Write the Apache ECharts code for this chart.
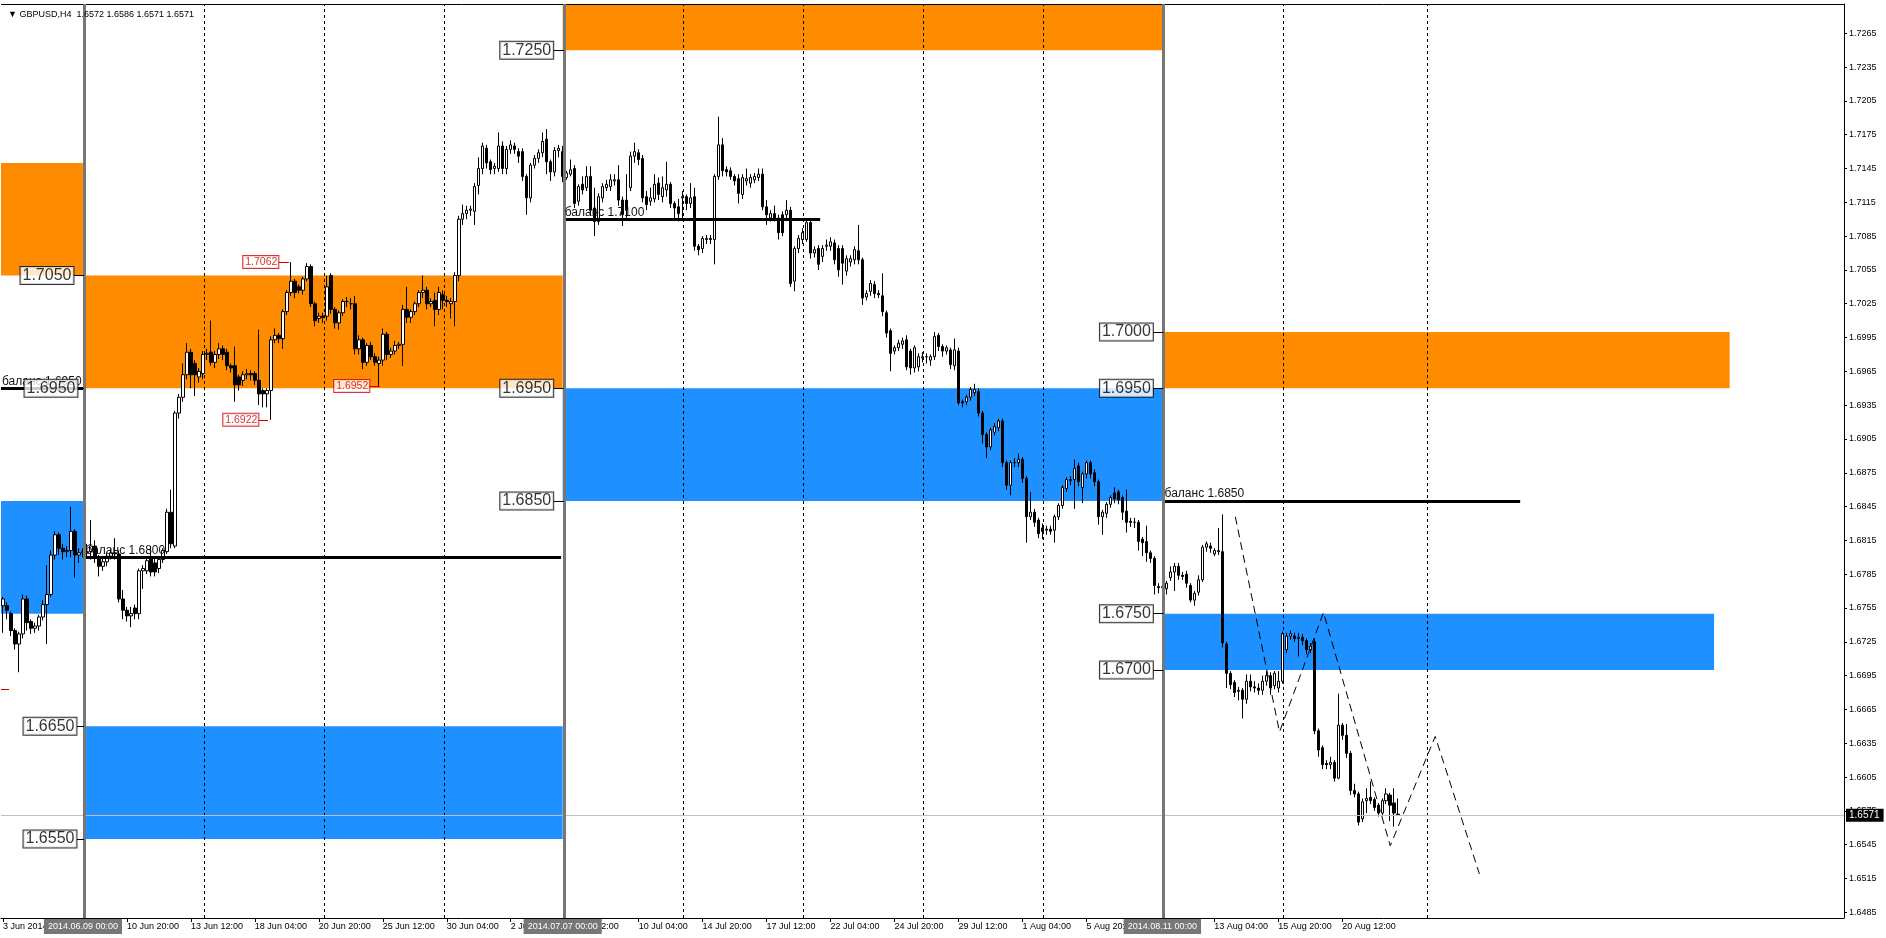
<!DOCTYPE html>
<html><head><meta charset="utf-8">
<script src="https://cdn.jsdelivr.net/npm/echarts@6/dist/echarts.min.js"></script>
<style>html,body{margin:0;padding:0;background:#fff}#c{width:1886px;height:938px}</style>
</head><body><div id="c"></div>
<script>
// ---------------- DATA ----------------
const SLOTS = 461; // H4 bar slots across the visible window (incl. empty future area)
// H4 candles: [open, close, low, high]
const ohlc = [
[1.6757,1.6763,1.6733,1.6765],[1.6757,1.6753,1.6745,1.6760],[1.6750,1.6735,1.6730,1.6752],[1.6735,1.6723,1.6718,1.6737],
[1.6723,1.6732,1.6698,1.6734],[1.6732,1.6763,1.6728,1.6767],[1.6763,1.6742,1.6735,1.6766],[1.6743,1.6737,1.6732,1.6745],
[1.6737,1.6739,1.6733,1.6742],[1.6739,1.6747,1.6735,1.6749],[1.6747,1.6758,1.6744,1.6762],[1.6758,1.6767,1.6723,1.6793],
[1.6767,1.6802,1.6765,1.6806],[1.6802,1.6820,1.6798,1.6823],[1.6820,1.6808,1.6802,1.6822],[1.6808,1.6805,1.6798,1.6812],
[1.6805,1.6806,1.6800,1.6810],[1.6806,1.6823,1.6800,1.6845],[1.6823,1.6802,1.6782,1.6825],[1.6802,1.6804,1.6795,1.6808],
[1.6804,1.6805,1.6800,1.6808],
[1.6804,1.6805,1.6800,1.6812],[1.6805,1.6810,1.6798,1.6833],[1.6810,1.6799,1.6795,1.6815],[1.6799,1.6792,1.6783,1.6802],
[1.6792,1.6796,1.6788,1.6800],[1.6796,1.6801,1.6792,1.6804],[1.6801,1.6804,1.6798,1.6808],[1.6804,1.6803,1.6798,1.6817],
[1.6803,1.6763,1.6760,1.6806],[1.6763,1.6753,1.6745,1.6771],[1.6753,1.6748,1.6743,1.6756],[1.6748,1.6750,1.6738,1.6756],
[1.6755,1.6750,1.6745,1.6758],[1.6750,1.6788,1.6745,1.6790],[1.6788,1.6790,1.6772,1.6793],[1.6788,1.6797,1.6785,1.6800],
[1.6800,1.6787,1.6783,1.6810],[1.6795,1.6787,1.6783,1.6799],[1.6790,1.6798,1.6786,1.6801],[1.6798,1.6806,1.6795,1.6808],
[1.6805,1.6840,1.6803,1.6843],[1.6840,1.6812,1.6808,1.6860],[1.6810,1.6928,1.6808,1.6930],[1.6928,1.6942,1.6923,1.6945],
[1.6942,1.6962,1.6938,1.6972],[1.6962,1.6982,1.6958,1.6990],[1.6982,1.6962,1.6950,1.6985],[1.6972,1.6962,1.6943,1.6975],
[1.6960,1.6965,1.6955,1.6968],[1.6963,1.6980,1.6958,1.6983],[1.6980,1.6981,1.6975,1.6985],[1.6982,1.6973,1.6970,1.7010],
[1.6973,1.6980,1.6968,1.6983],[1.6980,1.6985,1.6976,1.6990],[1.6985,1.6980,1.6975,1.6988],[1.6982,1.6970,1.6966,1.6985],
[1.6970,1.6968,1.6964,1.6972],[1.6970,1.6953,1.6938,1.6987],[1.6960,1.6953,1.6948,1.6962],[1.6957,1.6962,1.6952,1.6965],
[1.6962,1.6963,1.6958,1.6967],[1.6963,1.6962,1.6957,1.6966],[1.6963,1.6957,1.6953,1.6965],[1.6957,1.6945,1.6935,1.7002],
[1.6948,1.6945,1.6933,1.6950],[1.6945,1.6948,1.6933,1.6950],[1.6948,1.6993,1.6922,1.6996],[1.6993,1.6997,1.6990,1.7003],
[1.6997,1.6994,1.6990,1.6999],[1.6994,1.7018,1.6985,1.7020],[1.7018,1.7035,1.7015,1.7037],[1.7035,1.7045,1.7032,1.7062],
[1.7045,1.7035,1.7030,1.7047],[1.7040,1.7037,1.7034,1.7042],[1.7037,1.7047,1.7033,1.7049],[1.7047,1.7058,1.7045,1.7061],
[1.7058,1.7025,1.7022,1.7060],[1.7025,1.7010,1.7005,1.7027],[1.7012,1.7014,1.7008,1.7017],[1.7014,1.7013,1.7008,1.7017],
[1.7014,1.7040,1.7010,1.7050],[1.7050,1.7020,1.7016,1.7052],[1.7020,1.7008,1.7003,1.7022],[1.7008,1.7017,1.7002,1.7019],
[1.7017,1.7027,1.7014,1.7029],[1.7027,1.7027,1.7022,1.7031],[1.7025,1.7025,1.7020,1.7030],[1.7025,1.6985,1.6980,1.7032],
[1.6985,1.6993,1.6980,1.6997],[1.6993,1.6973,1.6967,1.6995],[1.6973,1.6988,1.6970,1.6990],[1.6988,1.6978,1.6975,1.6991],
[1.6978,1.6973,1.6970,1.6981],[1.6972,1.6975,1.6952,1.6978],[1.6975,1.6998,1.6970,1.7003],[1.6998,1.6980,1.6975,1.7000],
[1.6980,1.6983,1.6977,1.6986],[1.6983,1.6988,1.6980,1.6992],[1.6988,1.6989,1.6985,1.6991],[1.6989,1.7020,1.6970,1.7024],
[1.7020,1.7013,1.7008,1.7040],[1.7013,1.7018,1.7008,1.7020],[1.7018,1.7025,1.7015,1.7027],[1.7025,1.7035,1.7022,1.7037],
[1.7035,1.7037,1.7030,1.7050],[1.7037,1.7025,1.7020,1.7040],[1.7025,1.7027,1.7022,1.7030],[1.7028,1.7020,1.7005,1.7035],
[1.7020,1.7035,1.7015,1.7040],[1.7033,1.7028,1.7020,1.7037],[1.7028,1.7027,1.7022,1.7032],[1.7025,1.7027,1.7012,1.7030],
[1.7027,1.7050,1.7005,1.7053],[1.7050,1.7100,1.7045,1.7103],[1.7100,1.7105,1.7095,1.7113],[1.7105,1.7108,1.7100,1.7112],
[1.7108,1.7109,1.7103,1.7112],[1.7107,1.7129,1.7095,1.7132],[1.7130,1.7145,1.7122,1.7155],
[1.7145,1.7165,1.7140,1.7168],[1.7163,1.7150,1.7145,1.7166],[1.7151,1.7144,1.7140,1.7153],[1.7145,1.7147,1.7140,1.7150],
[1.7145,1.7165,1.7142,1.7177],[1.7165,1.7145,1.7140,1.7169],[1.7145,1.7162,1.7140,1.7165],[1.7162,1.7166,1.7158,1.7170],
[1.7165,1.7162,1.7158,1.7168],[1.7160,1.7156,1.7150,1.7163],[1.7160,1.7138,1.7134,1.7163],[1.7138,1.7119,1.7104,1.7140],
[1.7119,1.7148,1.7115,1.7150],[1.7148,1.7154,1.7145,1.7157],[1.7154,1.7159,1.7150,1.7162],[1.7159,1.7169,1.7155,1.7177],
[1.7171,1.7151,1.7140,1.7180],[1.7151,1.7142,1.7134,1.7153],[1.7142,1.7161,1.7138,1.7164],[1.7161,1.7163,1.7155,1.7166],
[1.7160,1.7138,1.7133,1.7165],
[1.7137,1.7141,1.7135,1.7143],[1.7140,1.7144,1.7138,1.7153],[1.7145,1.7114,1.7110,1.7148],[1.7116,1.7129,1.7112,1.7131],
[1.7131,1.7126,1.7122,1.7138],[1.7128,1.7138,1.7125,1.7147],[1.7138,1.7108,1.7103,1.7147],[1.7110,1.7098,1.7085,1.7128],
[1.7098,1.7120,1.7095,1.7123],[1.7119,1.7129,1.7115,1.7132],[1.7128,1.7131,1.7125,1.7135],[1.7129,1.7135,1.7125,1.7140],
[1.7134,1.7135,1.7130,1.7140],[1.7135,1.7117,1.7112,1.7148],[1.7117,1.7104,1.7094,1.7120],[1.7117,1.7108,1.7100,1.7140],
[1.7128,1.7156,1.7125,1.7160],[1.7156,1.7160,1.7150,1.7168],[1.7159,1.7153,1.7148,1.7162],[1.7154,1.7119,1.7115,1.7157],
[1.7120,1.7113,1.7108,1.7125],[1.7116,1.7119,1.7112,1.7128],[1.7118,1.7131,1.7115,1.7140],[1.7132,1.7122,1.7117,1.7137],
[1.7120,1.7128,1.7115,1.7138],[1.7126,1.7131,1.7120,1.7151],[1.7131,1.7114,1.7110,1.7133],[1.7114,1.7110,1.7100,1.7116],
[1.7111,1.7105,1.7098,1.7118],[1.7119,1.7120,1.7100,1.7125],[1.7120,1.7114,1.7108,1.7122],[1.7114,1.7119,1.7110,1.7132],
[1.7120,1.7076,1.7072,1.7128],[1.7076,1.7073,1.7068,1.7078],[1.7074,1.7083,1.7070,1.7085],[1.7082,1.7083,1.7078,1.7086],
[1.7083,1.7082,1.7078,1.7086],[1.7082,1.7138,1.7060,1.7140],[1.7138,1.7166,1.7135,1.7191],[1.7166,1.7143,1.7138,1.7172],
[1.7144,1.7142,1.7138,1.7147],[1.7143,1.7138,1.7135,1.7146],[1.7138,1.7134,1.7130,1.7140],[1.7136,1.7123,1.7114,1.7140],
[1.7122,1.7137,1.7118,1.7140],[1.7134,1.7136,1.7130,1.7145],[1.7132,1.7137,1.7128,1.7140],[1.7135,1.7138,1.7132,1.7141],
[1.7137,1.7140,1.7134,1.7145],[1.7140,1.7111,1.7108,1.7145],[1.7111,1.7104,1.7095,1.7117],[1.7101,1.7105,1.7098,1.7108],
[1.7105,1.7101,1.7098,1.7112],[1.7101,1.7088,1.7082,1.7104],[1.7104,1.7088,1.7085,1.7107],[1.7104,1.7108,1.7100,1.7117],
[1.7108,1.7043,1.7040,1.7111],[1.7045,1.7074,1.7036,1.7076],[1.7074,1.7083,1.7070,1.7086],[1.7082,1.7088,1.7078,1.7092],
[1.7082,1.7097,1.7080,1.7100],[1.7097,1.7070,1.7065,1.7100],[1.7070,1.7073,1.7066,1.7076],[1.7074,1.7060,1.7055,1.7077],
[1.7067,1.7074,1.7062,1.7077],[1.7076,1.7077,1.7072,1.7082],[1.7076,1.7080,1.7072,1.7084],[1.7079,1.7064,1.7060,1.7082],
[1.7074,1.7055,1.7049,1.7077],[1.7074,1.7061,1.7042,1.7077],[1.7054,1.7065,1.7050,1.7068],[1.7062,1.7065,1.7058,1.7068],
[1.7064,1.7073,1.7060,1.7076],[1.7072,1.7064,1.7060,1.7095],[1.7064,1.7030,1.7024,1.7066],[1.7031,1.7034,1.7028,1.7037],
[1.7036,1.7043,1.7032,1.7046],[1.7042,1.7034,1.7030,1.7045],[1.7034,1.7033,1.7030,1.7037],[1.7032,1.7018,1.7014,1.7052],
[1.7017,1.6999,1.6995,1.7019],[1.7001,1.6981,1.6965,1.7003],[1.6983,1.6986,1.6980,1.6988],[1.6986,1.6990,1.6983,1.6993],
[1.6989,1.6992,1.6985,1.6995],[1.6993,1.6969,1.6966,1.6997],[1.6983,1.6968,1.6962,1.6985],[1.6968,1.6986,1.6964,1.6988],
[1.6969,1.6978,1.6965,1.6981],[1.6977,1.6978,1.6973,1.6982],[1.6978,1.6978,1.6972,1.6981],[1.6975,1.6978,1.6970,1.6980],
[1.6978,1.6996,1.6975,1.7000],[1.6997,1.6987,1.6983,1.6999],[1.6987,1.6983,1.6978,1.6989],[1.6983,1.6986,1.6980,1.6988],
[1.6984,1.6971,1.6967,1.6986],[1.6970,1.6984,1.6966,1.6994],[1.6983,1.6937,1.6935,1.6986],[1.6938,1.6937,1.6933,1.6940],
[1.6938,1.6942,1.6935,1.6944],[1.6942,1.6949,1.6939,1.6951],[1.6946,1.6949,1.6943,1.6954],[1.6947,1.6928,1.6925,1.6950],
[1.6928,1.6909,1.6901,1.6930],[1.6909,1.6898,1.6888,1.6911],[1.6898,1.6913,1.6895,1.6915],[1.6911,1.6916,1.6908,1.6919],
[1.6915,1.6921,1.6912,1.6923],[1.6921,1.6884,1.6880,1.6923],[1.6884,1.6864,1.6860,1.6886],[1.6864,1.6884,1.6855,1.6886],
[1.6884,1.6884,1.6880,1.6888],[1.6884,1.6887,1.6880,1.6892],[1.6887,1.6870,1.6866,1.6889],[1.6870,1.6836,1.6813,1.6872],
[1.6836,1.6840,1.6833,1.6858],[1.6840,1.6831,1.6827,1.6843],[1.6833,1.6821,1.6817,1.6835],[1.6826,1.6823,1.6816,1.6830],
[1.6824,1.6825,1.6820,1.6828],[1.6825,1.6823,1.6820,1.6828],[1.6824,1.6836,1.6813,1.6838],[1.6836,1.6846,1.6833,1.6848],
[1.6846,1.6862,1.6843,1.6864],[1.6861,1.6869,1.6858,1.6871],[1.6868,1.6869,1.6864,1.6872],[1.6869,1.6879,1.6843,1.6887],
[1.6881,1.6867,1.6863,1.6884],[1.6862,1.6874,1.6848,1.6876],[1.6874,1.6884,1.6870,1.6886],[1.6884,1.6874,1.6870,1.6886],
[1.6875,1.6867,1.6863,1.6878],[1.6867,1.6836,1.6829,1.6869],[1.6836,1.6840,1.6820,1.6842],[1.6839,1.6847,1.6835,1.6849],
[1.6847,1.6853,1.6844,1.6855],[1.6857,1.6852,1.6848,1.6862],[1.6858,1.6851,1.6847,1.6860],[1.6853,1.6840,1.6833,1.6855],
[1.6841,1.6831,1.6822,1.6860],[1.6832,1.6831,1.6827,1.6835],[1.6831,1.6831,1.6826,1.6835],[1.6831,1.6814,1.6806,1.6833],
[1.6816,1.6813,1.6801,1.6818],[1.6814,1.6804,1.6796,1.6828],[1.6804,1.6799,1.6795,1.6806],[1.6799,1.6775,1.6767,1.6801],
[1.6774,1.6773,1.6768,1.6777],[1.6773,1.6774,1.6769,1.6778],[1.6772,1.6777,1.6767,1.6779],[1.6782,1.6787,1.6779,1.6792],
[1.6787,1.6792,1.6770,1.6795],[1.6792,1.6784,1.6780,1.6795],[1.6784,1.6783,1.6780,1.6787],[1.6785,1.6777,1.6773,1.6788],
[1.6775,1.6762,1.6760,1.6777],[1.6762,1.6768,1.6757,1.6770],[1.6769,1.6780,1.6766,1.6784],[1.6780,1.6809,1.6778,1.6811],
[1.6809,1.6812,1.6805,1.6814],[1.6810,1.6808,1.6804,1.6813],[1.6803,1.6806,1.6801,1.6808],[1.6805,1.6806,1.6802,1.6826],
[1.6805,1.6724,1.6720,1.6838],[1.6723,1.6697,1.6684,1.6725],[1.6697,1.6687,1.6683,1.6699],[1.6689,1.6680,1.6676,1.6691],
[1.6681,1.6682,1.6673,1.6685],[1.6682,1.6674,1.6657,1.6684],[1.6674,1.6690,1.6670,1.6696],[1.6690,1.6685,1.6681,1.6696],
[1.6685,1.6684,1.6680,1.6690],[1.6684,1.6682,1.6678,1.6688],[1.6682,1.6690,1.6678,1.6695],[1.6690,1.6695,1.6686,1.6699],
[1.6695,1.6684,1.6678,1.6698],[1.6686,1.6697,1.6683,1.6699],[1.6684,1.6690,1.6680,1.6699],[1.6690,1.6732,1.6688,1.6734],
[1.6718,1.6730,1.6715,1.6733],[1.6730,1.6732,1.6727,1.6735],[1.6730,1.6728,1.6725,1.6733],[1.6728,1.6729,1.6712,1.6733],
[1.6729,1.6726,1.6722,1.6732],[1.6726,1.6718,1.6714,1.6728],[1.6718,1.6721,1.6715,1.6724],[1.6725,1.6646,1.6643,1.6728],
[1.6646,1.6629,1.6623,1.6648],[1.6631,1.6616,1.6612,1.6633],[1.6617,1.6616,1.6612,1.6620],[1.6616,1.6618,1.6612,1.6623],
[1.6618,1.6604,1.6601,1.6620],[1.6604,1.6651,1.6603,1.6679],[1.6651,1.6642,1.6638,1.6653],[1.6642,1.6626,1.6622,1.6652],
[1.6626,1.6593,1.6589,1.6628],[1.6593,1.6590,1.6587,1.6599],[1.6590,1.6565,1.6562,1.6592],[1.6568,1.6583,1.6565,1.6586],
[1.6584,1.6586,1.6573,1.6595],[1.6587,1.6584,1.6581,1.6601],[1.6585,1.6578,1.6575,1.6587],[1.6580,1.6573,1.6570,1.6582],
[1.6573,1.6584,1.6570,1.6586],[1.6584,1.6590,1.6581,1.6595],[1.6589,1.6580,1.6566,1.6591],[1.6582,1.6573,1.6561,1.6595],
[1.6572,1.6571,1.6571,1.6586]
];
// time axis labels (bar index -> text)
const timeTickIdx = [0,31,47,63,79,95,111,127,143,159,175,191,207,223,239,255,271,287,303,319,335];
const timeTickLabels = ['3 Jun 2014','10 Jun 20:00','13 Jun 12:00','18 Jun 04:00','20 Jun 20:00','25 Jun 12:00','30 Jun 04:00','2 Jul 20:00','7 Jul 12:00','10 Jul 04:00','14 Jul 20:00','17 Jul 12:00','22 Jul 04:00','24 Jul 20:00','29 Jul 12:00','1 Aug 04:00','5 Aug 20:00','8 Aug 12:00','13 Aug 04:00','15 Aug 20:00','20 Aug 12:00'];
// price axis labels
const priceTicks = [1.6485,1.6515,1.6545,1.6575,1.6605,1.6635,1.6665,1.6695,1.6725,1.6755,1.6785,1.6815,1.6845,1.6875,1.6905,1.6935,1.6965,1.6995,1.7025,1.7055,1.7085,1.7115,1.7145,1.7175,1.7205,1.7235,1.7265];
// vertical lines (bar index) and their labels
const vlineIdx = [20,140,290];
const vlineLabels = ['2014.06.09 00:00','2014.07.07 00:00','2014.08.11 00:00'];
// weekly period separators (bar index)
const separatorIdx = [50,80,110,170,200,230,260,320,356];
// zones: from bar, to bar, low price, high price
const supplyFrom = [-0.5, 20, 140, 290];
const supplyTo   = [20, 140, 290, 431.9];
const supplyLow  = [1.7050, 1.6950, 1.7250, 1.6950];
const supplyHigh = [1.7150, 1.7050, 1.7291, 1.7000];
const demandFrom = [-0.5, 20, 140, 290];
const demandTo   = [20, 140, 290, 428];
const demandLow  = [1.6750, 1.6550, 1.6850, 1.6700];
const demandHigh = [1.6850, 1.6650, 1.6950, 1.6750];
// "баланс" horizontal lines
const balFrom  = [-0.5, 20.4, 140.25, 290.3];
const balTo    = [20.25, 139.6, 204.4, 379.5];
const balPrice = [1.6950, 1.6800, 1.7100, 1.6850];
// price label boxes: box right edge bar, leader end bar, price
const boxRight = [17.75, 18.75, 18.5, 18.5, 137.75, 137.75, 137.75, 287.75, 287.75, 287.75, 287.75];
const boxEnd   = [20.25, 20.25, 20.25, 20.25, 140.25, 140.25, 140.25, 290.25, 290.25, 290.25, 290.25];
const boxPrice = [1.7050, 1.6950, 1.6650, 1.6550, 1.7250, 1.6950, 1.6850, 1.7000, 1.6950, 1.6750, 1.6700];
// red high/low labels
const redRight = [69, 64, 91.75];
const redEnd   = [71.5, 66.3, 94.25];
const redPrice = [1.7062, 1.6922, 1.6952];
const redStub  = [[-0.5, 1.6683], [1.5, 1.6683]];
// projected zigzag (dashed)
const zigIdx   = [308.25, 319.3, 330.3, 347, 358.25, 369.3];
const zigPrice = [1.6836, 1.6645, 1.6751, 1.6544, 1.6641, 1.6519];

// ---------------- CHART ----------------
const FONT = '"Liberation Sans", Arial, sans-serif';
const ORANGE = '#FF8C00', BLUE = '#1E90FF';
const cats = Array.from({length: SLOTS}, (_, i) => String(i));
const tickMap = {}; timeTickIdx.forEach((i, k) => tickMap[i] = timeTickLabels[k]);
const vMap = {}; vlineIdx.forEach((i, k) => vMap[i] = vlineLabels[k]);
const last = ohlc[ohlc.length - 1];
const lastClose = last[1];
const f4 = v => v.toFixed(4);
const X_MIN = -0.5, X_MAX = SLOTS - 0.5;
const Y_MIN = 1.64799, Y_MAX = 1.72910;
const vSeg = v => [{coord: [v, Y_MIN]}, {coord: [v, Y_MAX]}];

const zonesData = [];
supplyFrom.forEach((f, k) => zonesData.push([{coord: [f, supplyHigh[k]], itemStyle: {color: ORANGE, opacity: 1}}, {coord: [supplyTo[k], supplyLow[k]]}]));
demandFrom.forEach((f, k) => zonesData.push([{coord: [f, demandHigh[k]], itemStyle: {color: BLUE, opacity: 1}}, {coord: [demandTo[k], demandLow[k]]}]));

const chart = echarts.init(document.getElementById('c'), null, {renderer: 'canvas', width: 1886, height: 938});
const option = {
  animation: false,
  backgroundColor: '#fff',
  title: {
    text: '\u25BC GBPUSD,H4  ' + [last[0], last[3], last[2], last[1]].map(f4).join(' '),
    left: 3, top: 5,
    textStyle: {fontSize: 9, fontWeight: 'normal', color: '#000', fontFamily: FONT}
  },
  grid: {left: 0, right: 42, top: 4, bottom: 20, show: false},
  xAxis: [
    {type: 'category', data: cats, boundaryGap: true, position: 'bottom',
     axisLine: {show: true, onZero: false, lineStyle: {color: '#000', width: 1}},
     axisTick: {show: true, interval: (i) => tickMap[i] !== undefined, alignWithLabel: true, length: 4, lineStyle: {color: '#000'}},
     axisLabel: {show: true, interval: (i) => tickMap[i] !== undefined, formatter: (v, i) => tickMap[i] || '',
                 align: 'left', margin: 4, fontSize: 9, color: '#000', fontFamily: FONT},
     splitLine: {show: false}},
    {type: 'category', data: cats, boundaryGap: true, position: 'bottom', z: 5,
     axisLine: {show: false, onZero: false}, axisTick: {show: false}, splitLine: {show: false},
     axisLabel: {show: true, interval: (i) => vMap[i] !== undefined, formatter: (v, i) => vMap[i] || '',
                 align: 'center', margin: 1, fontSize: 9, color: '#fff', fontFamily: FONT,
                 backgroundColor: '#777777', padding: [3, 4, 3, 4]}},
    {type: 'value', min: X_MIN, max: X_MAX, show: false}
  ],
  yAxis: {
    type: 'value', position: 'right', min: Y_MIN, max: Y_MAX,
    axisLine: {show: true, onZero: false, lineStyle: {color: '#000'}},
    axisTick: {show: true, customValues: priceTicks, length: 3, lineStyle: {color: '#000'}},
    axisLabel: {show: true, customValues: priceTicks, formatter: v => f4(v), margin: 5, fontSize: 9, color: '#000', fontFamily: FONT},
    splitLine: {show: false}
  },
  series: [
    {name: 'zones', type: 'line', xAxisIndex: 2, data: [], z: 1, silent: true,
     markArea: {silent: true, data: zonesData}},
    {name: 'separators', type: 'line', xAxisIndex: 2, data: [], z: 2, silent: true,
     markLine: {silent: true, precision: 6, symbol: ['none', 'none'], label: {show: false},
                lineStyle: {color: '#000', width: 1, type: [3, 3]},
                data: separatorIdx.map(i => vSeg(i + 0.25))}},
    {name: 'currentPrice', type: 'line', xAxisIndex: 2, data: [], z: 2, silent: true, clip: false,
     markLine: {silent: true, precision: 6, symbol: ['none', 'none'],
                lineStyle: {color: '#c0c0c0', width: 1, type: 'solid'},
                label: {show: true, position: 'end', distance: 2, formatter: f4(lastClose), color: '#fff', backgroundColor: '#000',
                        padding: [2, 4, 1, 3], fontSize: 10, fontFamily: FONT},
                data: [[{coord: [X_MIN, lastClose]}, {coord: [X_MAX, lastClose]}]]}},
    {name: 'frameTop', type: 'line', xAxisIndex: 2, data: [], z: 2, silent: true, clip: false,
     markLine: {silent: true, precision: 6, symbol: ['none', 'none'], label: {show: false},
                lineStyle: {color: '#000', width: 1, type: 'solid'},
                data: [[{coord: [X_MIN, Y_MAX]}, {coord: [X_MAX, Y_MAX]}]]}},
    {name: 'GBPUSD', type: 'candlestick', xAxisIndex: 0, z: 3, barWidth: 3, silent: true,
     itemStyle: {color: '#fff', color0: '#000', borderColor: '#000', borderColor0: '#000', borderWidth: 1},
     data: ohlc},
    {name: 'balanceLines', type: 'line', xAxisIndex: 2, data: [], z: 4, silent: true, clip: false,
     markLine: {silent: true, precision: 6, symbol: ['none', 'none'],
                lineStyle: {color: '#000', width: 3, type: 'solid'},
                label: {show: true, position: 'insideStartTop', distance: 1, color: '#111', fontSize: 12, fontFamily: FONT,
                        formatter: p => '\u0431\u0430\u043b\u0430\u043d\u0441 ' + f4(p.value)},
                data: balPrice.map((p, k) => [{coord: [balFrom[k], p], value: p}, {coord: [balTo[k], p]}])}},
    {name: 'zigzag', type: 'line', xAxisIndex: 2, z: 4, silent: true, symbol: 'none',
     lineStyle: {color: '#000', width: 1, type: [8, 5]},
     data: zigIdx.map((x, k) => [x, zigPrice[k]])},
    {name: 'vlines', type: 'line', xAxisIndex: 2, data: [], z: 5, silent: true,
     markLine: {silent: true, precision: 6, symbol: ['none', 'none'], label: {show: false},
                lineStyle: {color: '#777777', width: 3, type: 'solid'},
                data: vlineIdx.map(i => vSeg(i + 0.3))}},
    {name: 'priceBoxes', type: 'scatter', xAxisIndex: 2, clip: false, z: 6, silent: true,
     symbolSize: 1, itemStyle: {color: 'rgba(0,0,0,0)'},
     label: {show: true, position: 'left', distance: 0, color: '#000', fontSize: 16, lineHeight: 16, fontFamily: FONT,
             backgroundColor: '#fff', borderColor: '#000', borderWidth: 1, padding: [1, 2, 0, 2],
             formatter: p => f4(p.value[1])},
     data: boxPrice.map((p, k) => [boxRight[k], p]),
     markLine: {silent: true, precision: 6, symbol: ['none', 'none'], label: {show: false},
                lineStyle: {color: '#000', width: 1, type: 'solid'},
                data: boxPrice.map((p, k) => [{coord: [boxRight[k], p]}, {coord: [boxEnd[k], p]}])}},
    {name: 'redLabels', type: 'scatter', xAxisIndex: 2, clip: false, z: 6, silent: true,
     symbolSize: 1, itemStyle: {color: 'rgba(0,0,0,0)'},
     label: {show: true, position: 'left', distance: 0, color: '#d00000', fontSize: 10.5, lineHeight: 11, fontFamily: FONT,
             backgroundColor: '#fff', borderColor: '#d00000', borderWidth: 1, padding: [1, 1, 0, 2],
             formatter: p => f4(p.value[1])},
     data: redPrice.map((p, k) => [redRight[k], p]),
     markLine: {silent: true, precision: 6, symbol: ['none', 'none'], label: {show: false},
                lineStyle: {color: '#d00000', width: 1, type: 'solid'},
                data: redPrice.map((p, k) => [{coord: [redRight[k], p]}, {coord: [redEnd[k], p]}])
                      .concat([[{coord: redStub[0]}, {coord: redStub[1]}]])}}
  ]
};
chart.setOption(option);
</script>
</body></html>
